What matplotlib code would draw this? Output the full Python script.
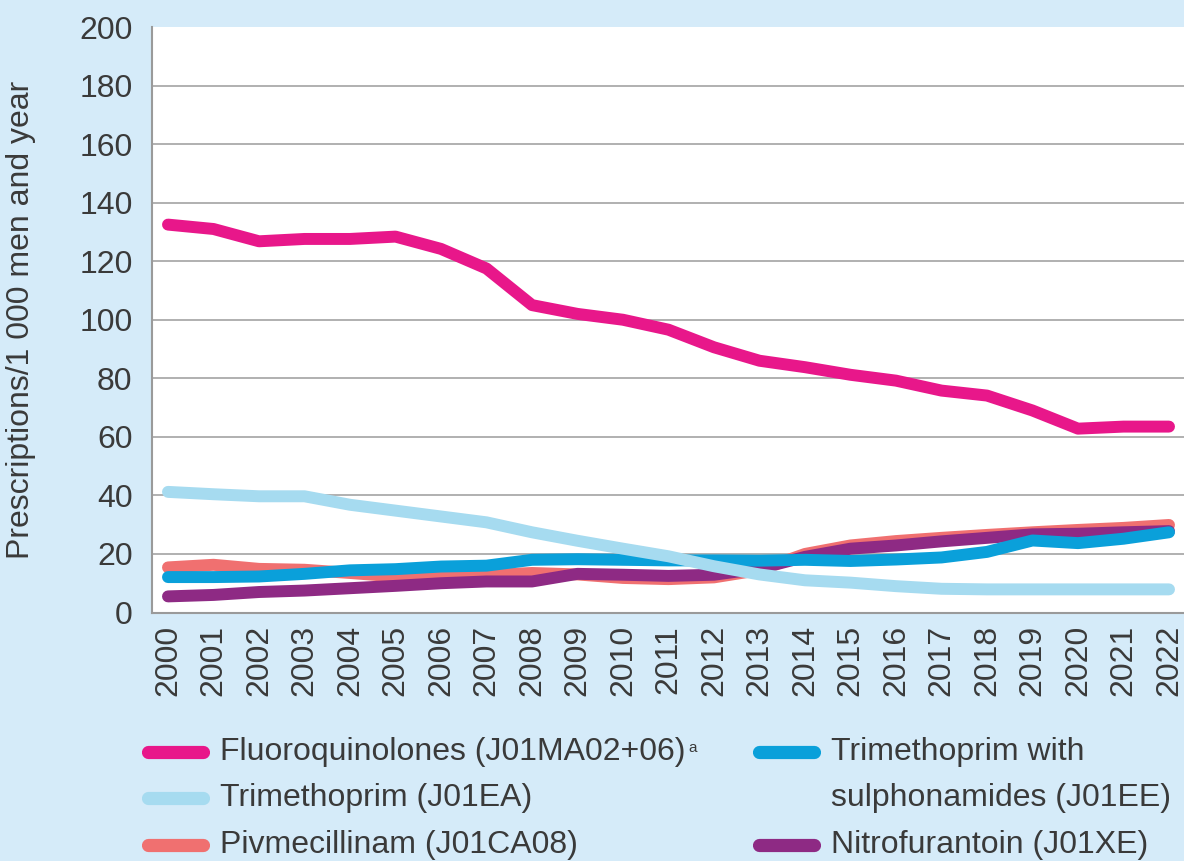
import matplotlib
matplotlib.use("Agg")
import matplotlib.pyplot as plt
from matplotlib.lines import Line2D

plt.rcParams['font.family'] = ['Liberation Sans', 'DejaVu Sans']

# data
years = list(range(2000, 2023))
fluoro = [132.5, 131.0, 126.8, 127.6, 127.6, 128.4, 124.2, 117.5, 105.0, 102.0, 100.0, 96.6,
          90.6, 86.0, 83.8, 81.2, 79.2, 75.8, 74.1, 69.0, 62.8, 63.5, 63.5]
trim = [41.2, 40.4, 39.7, 39.7, 36.8, 34.8, 32.8, 30.8, 27.4, 24.5, 21.8, 19.2,
        15.8, 13.0, 11.0, 10.2, 9.0, 8.1, 7.9, 7.9, 7.9, 7.9, 7.9]
pivm = [15.4, 16.3, 14.9, 14.6, 13.5, 12.3, 12.3, 12.8, 13.5, 13.0, 11.8, 11.4,
        12.0, 14.5, 20.0, 22.9, 24.4, 25.5, 26.5, 27.4, 28.2, 28.9, 29.9]
tws = [12.1, 12.1, 12.3, 13.2, 14.4, 14.8, 15.7, 16.0, 18.0, 18.2, 18.0, 17.8,
       17.8, 17.7, 18.0, 17.6, 18.1, 18.8, 20.7, 24.6, 23.7, 25.2, 27.4]
nitro = [5.5, 6.0, 7.0, 7.5, 8.3, 9.1, 10.0, 10.6, 10.6, 13.2, 12.9, 12.5,
         12.9, 15.0, 19.0, 21.8, 22.9, 24.3, 25.5, 26.7, 26.9, 27.4, 27.8]

yticks = list(range(0, 201, 20))

c_fluoro = '#e8178a'
c_trim = '#a6dbf0'
c_pivm = '#f07070'
c_tws = '#0aa0da'
c_nitro = '#8e2a84'
bg = '#d5ebf9'
txt = '#3a3a3a'

fig = plt.figure(figsize=(11.84, 8.61), dpi=100, facecolor=bg)
ax = fig.add_axes([152/1184, 1 - 612.5/861, 1 - 152/1184, (612.5 - 27)/861])
ax.set_facecolor('white')

lw = 8.6
# drawing order as in the original
ax.plot(years, pivm, color=c_pivm, lw=lw, solid_capstyle='round', solid_joinstyle='round')
ax.plot(years, nitro, color=c_nitro, lw=lw, solid_capstyle='round', solid_joinstyle='round')
ax.plot(years, tws, color=c_tws, lw=lw, solid_capstyle='round', solid_joinstyle='round')
ax.plot(years, trim, color=c_trim, lw=lw, solid_capstyle='round', solid_joinstyle='round')
ax.plot(years, fluoro, color=c_fluoro, lw=lw, solid_capstyle='round', solid_joinstyle='round')

# gridlines (not at top edge)
for v in yticks[1:-1]:
    ax.axhline(v, color='#aaaaaa', lw=1.3, zorder=0)

ax.set_xlim(2000 - 16/45.5, 2022 + 15/45.5)
ax.set_ylim(0, 200)
ax.set_yticks(yticks)
ax.set_xticks(years)
ax.set_xticklabels([str(y) for y in years], rotation=90)
ax.tick_params(axis='both', length=0, labelsize=23, colors=txt)
ax.tick_params(axis='y', pad=14)
ax.tick_params(axis='x', pad=9)

for s in ['top', 'right']:
    ax.spines[s].set_visible(False)
for s in ['left', 'bottom']:
    ax.spines[s].set_color('#9a9a9a')
    ax.spines[s].set_linewidth(1.5)

ax.set_ylabel('Prescriptions/1 000 men and year', fontsize=23, color=txt)
ax.yaxis.set_label_coords((36 - 152)/1032, 0.5)

# legend, built by hand to follow the original layout
def fx(px):
    return px / 1184

def fy(py):
    return 1 - py / 861

legend_items = [
    (c_fluoro, 'Fluoroquinolones (J01MA02+06)', 148, 752),
    (c_trim, 'Trimethoprim (J01EA)', 148, 798),
    (c_pivm, 'Pivmecillinam (J01CA08)', 148, 845),
    (c_tws, 'Trimethoprim with', 759, 752),
    (c_nitro, 'Nitrofurantoin (J01XE)', 759, 845),
]
texts = []
for col, lab, hx, hy in legend_items:
    fig.add_artist(Line2D([fx(hx), fx(hx + 55)], [fy(hy), fy(hy)], color=col, lw=9.5,
                          solid_capstyle='round', transform=fig.transFigure))
    t = fig.text(fx(hx + 72), fy(hy), lab, fontsize=23, color=txt, va='center', ha='left')
    texts.append(t)
fig.text(fx(759 + 72), fy(798), 'sulphonamides (J01EE)', fontsize=23, color=txt,
         va='center', ha='left')

fig.canvas.draw()
bb = texts[0].get_window_extent()
fig.text((bb.x1 + 3) / fig.bbox.width, (bb.y1 - 4) / fig.bbox.height, 'a',
         fontsize=11, color=txt, va='top', ha='left')

fig.savefig('out.png', dpi=100, facecolor=bg)
